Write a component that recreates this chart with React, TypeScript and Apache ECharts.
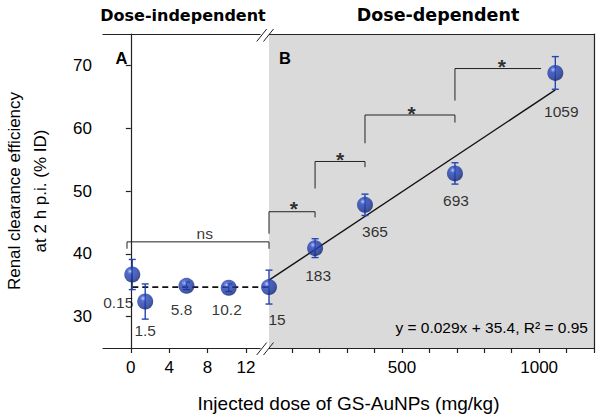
import React, { useEffect, useRef } from 'react';
import * as echarts from 'echarts';

// ---------- data ----------
const leftDoses = [0.15, 1.5, 5.8, 10.2];
const leftMeans = [36.7, 32.4, 34.9, 34.6];
const leftErrors = [2.4, 2.8, 0.6, 0.6];
const leftLabels = ['0.15', '1.5', '5.8', '10.2'];

const rightDoses = [15, 183, 365, 693, 1059];
const rightMeans = [34.7, 40.9, 47.8, 52.8, 68.8];
const rightErrors = [2.7, 1.5, 1.7, 1.7, 2.6];
const rightLabels = ['15', '183', '365', '693', '1059'];

const yTicks = [30, 40, 50, 60, 70];
const leftXTicks = [0, 4, 8, 12];
const rightXTicks = [100, 200, 300, 400, 500, 600, 700, 800, 900, 1000, 1100, 1200];
const rightXLabels = [500, 1000];

const plateauLine = [[0.15, 34.7], [14.4, 34.7]];
const fitLine = [[15, 35.8], [1059, 66.1]];
const nsBracket = [[-0.4, 40.8], [-0.4, 41.9], [14.4, 41.9], [14.4, 40.8]];
const starBrackets = [
  [[15, 43.2], [15, 46.7], [183, 46.7], [183, 45.8]],
  [[183, 50.4], [183, 54.7], [365, 54.7], [365, 53.8]],
  [[365, 57.6], [365, 62.1], [693, 62.1], [693, 60.9]],
  [[693, 64.4], [693, 69.5], [1007, 69.5]],
];
const starPositions = [[106, 47.8], [274, 55.7], [535, 63.0], [864, 70.5]];
const nsPosition = [7.7, 43.2];
const equationText = 'y = 0.029x + 35.4, R\u00B2 = 0.95';

// ---------- styling (not data) ----------
const leftLabelOffsets = [[-14, 28], [0, 29], [-5, 24], [-2, 22]];
const rightLabelOffsets = [[8, 32], [3, 27], [10, 27], [1, 27], [6, 39]];

const FONT = 'Liberation Sans';
const BOLD_TITLE = 'DejaVu Sans';
const TXT = '#000000';
const ERR_COLOR = '#2545b0';

const sphere = () =>
  new echarts.graphic.RadialGradient(0.36, 0.3, 0.72, [
    { offset: 0, color: '#f2f5ff' },
    { offset: 0.07, color: '#7d92df' },
    { offset: 0.25, color: '#2747bd' },
    { offset: 0.75, color: '#1b3596' },
    { offset: 1, color: '#0c1f6e' },
  ]);

const errRender = (params: any, api: any) => {
  const x = api.value(0);
  const lo = api.coord([x, api.value(1)]);
  const hi = api.coord([x, api.value(2)]);
  const w = 3.5;
  const style = { stroke: ERR_COLOR, lineWidth: 1.4 };
  return {
    type: 'group',
    children: [
      { type: 'line', shape: { x1: hi[0], y1: hi[1], x2: lo[0], y2: lo[1] }, style },
      { type: 'line', shape: { x1: hi[0] - w, y1: hi[1], x2: hi[0] + w, y2: hi[1] }, style },
      { type: 'line', shape: { x1: lo[0] - w, y1: lo[1], x2: lo[0] + w, y2: lo[1] }, style },
    ],
  };
};

const txt = (x: number, y: number, text: string, size: number, opts: any = {}) => ({
  type: 'text', x, y, z: 100,
  style: {
    text, fill: TXT, fontSize: size, fontFamily: opts.family || FONT, fontWeight: opts.weight || 'normal',
    textAlign: opts.align || 'center', textVerticalAlign: 'middle',
  },
});

function buildOption() {
  const gridTop = 34;
  const gridH = 314;
  const bracketStyle = { color: '#222', width: 1 };
  const series: any[] = [];

  series.push({
    type: 'line', xAxisIndex: 0, yAxisIndex: 0, data: plateauLine, symbol: 'none', clip: false,
    lineStyle: { color: '#111', width: 1.6, type: [6, 4] }, z: 2,
  });
  series.push({
    type: 'line', xAxisIndex: 1, yAxisIndex: 1, data: fitLine, symbol: 'none', clip: false,
    lineStyle: { color: '#111', width: 1.4 }, z: 2,
  });
  series.push({
    type: 'line', xAxisIndex: 0, yAxisIndex: 0, data: nsBracket, symbol: 'none', clip: false,
    lineStyle: bracketStyle, z: 2,
  });
  starBrackets.forEach((b) =>
    series.push({
      type: 'line', xAxisIndex: 1, yAxisIndex: 1, data: b, symbol: 'none', clip: false,
      lineStyle: bracketStyle, z: 2,
    })
  );
  series.push({
    type: 'custom', xAxisIndex: 0, yAxisIndex: 0, renderItem: errRender, clip: false, z: 3,
    data: leftDoses.map((d, i) => [d, leftMeans[i] - leftErrors[i], leftMeans[i] + leftErrors[i]]),
  });
  series.push({
    type: 'custom', xAxisIndex: 1, yAxisIndex: 1, renderItem: errRender, clip: false, z: 3,
    data: rightDoses.map((d, i) => [d, rightMeans[i] - rightErrors[i], rightMeans[i] + rightErrors[i]]),
  });
  const labelBase = { show: true, position: 'inside', color: TXT, fontFamily: FONT, fontSize: 15.5 };
  series.push({
    type: 'scatter', xAxisIndex: 0, yAxisIndex: 0, symbolSize: 16, clip: false, z: 4,
    itemStyle: { color: sphere() },
    data: leftDoses.map((d, i) => ({
      value: [d, leftMeans[i]],
      label: { ...labelBase, formatter: leftLabels[i], offset: leftLabelOffsets[i] },
    })),
  });
  series.push({
    type: 'scatter', xAxisIndex: 1, yAxisIndex: 1, symbolSize: 16, clip: false, z: 4,
    itemStyle: { color: sphere() },
    data: rightDoses.map((d, i) => ({
      value: [d, rightMeans[i]],
      label: { ...labelBase, formatter: rightLabels[i], offset: rightLabelOffsets[i] },
    })),
  });
  series.push({
    type: 'scatter', xAxisIndex: 1, yAxisIndex: 1, symbolSize: 0, clip: false, z: 5,
    data: starPositions,
    label: {
      show: true, position: 'inside', formatter: '*', color: TXT, fontFamily: FONT,
      fontWeight: 'bold', fontSize: 21, offset: [0, 4],
    },
  });
  series.push({
    type: 'scatter', xAxisIndex: 0, yAxisIndex: 0, symbolSize: 0, clip: false, z: 5,
    data: [nsPosition],
    label: { show: true, position: 'inside', formatter: 'ns', color: TXT, fontFamily: FONT, fontSize: 15.5 },
  });

  const tickLabel = { color: TXT, fontFamily: FONT, fontSize: 17 };
  const axisLineStyle = { color: '#222', width: 1.2 };
  const plain = (v: number) => String(v);

  return {
    animation: false,
    backgroundColor: '#ffffff',
    textStyle: { fontFamily: FONT },
    grid: [
      { left: 103, top: gridTop, width: 166, height: gridH, show: false, outerBoundsMode: 'none' },
      {
        left: 269, top: gridTop, width: 325, height: gridH, show: true,
        backgroundColor: '#dadada', borderWidth: 0, outerBoundsMode: 'none',
      },
    ],
    xAxis: [
      {
        type: 'value', gridIndex: 0, min: -2.9, max: 14.4, position: 'bottom',
        axisLine: { show: true, lineStyle: axisLineStyle },
        axisTick: { show: true, length: 5, customValues: leftXTicks, lineStyle: axisLineStyle },
        axisLabel: { ...tickLabel, customValues: leftXTicks, margin: 11, formatter: plain },
        splitLine: { show: false },
      },
      {
        type: 'value', gridIndex: 1, min: 15, max: 1200, position: 'bottom',
        axisLine: { show: true, lineStyle: axisLineStyle },
        axisTick: { show: true, length: 5, customValues: rightXTicks, lineStyle: axisLineStyle },
        axisLabel: { ...tickLabel, customValues: rightXLabels, margin: 11, formatter: plain },
        splitLine: { show: false },
      },
      {
        type: 'value', gridIndex: 0, min: -2.9, max: 14.4, position: 'top',
        axisLine: { show: true, lineStyle: axisLineStyle },
        axisTick: { show: false }, axisLabel: { show: false }, splitLine: { show: false },
      },
      {
        type: 'value', gridIndex: 1, min: 15, max: 1200, position: 'top',
        axisLine: { show: true, lineStyle: axisLineStyle },
        axisTick: { show: false }, axisLabel: { show: false }, splitLine: { show: false },
      },
    ],
    yAxis: [
      {
        type: 'value', gridIndex: 0, min: 25, max: 75, position: 'left',
        axisLine: { show: true, lineStyle: axisLineStyle },
        axisTick: { show: true, length: 5, customValues: yTicks, lineStyle: axisLineStyle },
        axisLabel: { ...tickLabel, customValues: yTicks, margin: 11, formatter: plain },
        splitLine: { show: false },
        name: 'Renal clearance efficiency\nat 2 h p.i. (% ID)',
        nameLocation: 'middle', nameGap: 50,
        nameTextStyle: { color: TXT, fontFamily: FONT, fontSize: 17, lineHeight: 26, align: 'center' },
      },
      {
        type: 'value', gridIndex: 1, min: 25, max: 75, position: 'right',
        axisLine: { show: true, lineStyle: axisLineStyle },
        axisTick: { show: false }, axisLabel: { show: false }, splitLine: { show: false },
      },
    ],
    graphic: [
      { type: 'rect', shape: { x: 260.5, y: 31.5, width: 8.5, height: 5 }, style: { fill: '#ffffff' }, z: 100 },
      { type: 'rect', shape: { x: 260.5, y: 345.5, width: 8.5, height: 5 }, style: { fill: '#ffffff' }, z: 100 },
      { type: 'line', shape: { x1: 256.7, y1: 41.5, x2: 266.7, y2: 29 }, style: { stroke: '#222', lineWidth: 1 }, z: 101 },
      { type: 'line', shape: { x1: 263.5, y1: 41.5, x2: 273.5, y2: 29 }, style: { stroke: '#222', lineWidth: 1 }, z: 101 },
      { type: 'line', shape: { x1: 256.7, y1: 355, x2: 266.7, y2: 342.5 }, style: { stroke: '#222', lineWidth: 1 }, z: 101 },
      { type: 'line', shape: { x1: 263.5, y1: 355, x2: 273.5, y2: 342.5 }, style: { stroke: '#222', lineWidth: 1 }, z: 101 },
      txt(183, 15, 'Dose-independent', 16, { family: BOLD_TITLE, weight: 'bold' }),
      txt(438, 14.5, 'Dose-dependent', 17.5, { family: BOLD_TITLE, weight: 'bold' }),
      txt(121.5, 57.5, 'A', 16.5, { weight: 'bold' }),
      txt(285, 57.5, 'B', 16.5, { weight: 'bold' }),
      txt(588, 327, equationText, 15.5, { align: 'right' }),
      txt(348.5, 403, 'Injected dose of GS-AuNPs (mg/kg)', 19),
    ],
    series,
  };
}

export default function App() {
  const ref = useRef<HTMLDivElement>(null);
  useEffect(() => {
    document.body.style.margin = '0';
    if (!ref.current) return;
    const chart = echarts.init(ref.current, undefined, { renderer: 'svg' });
    chart.setOption(buildOption() as any);
    return () => chart.dispose();
  }, []);
  return <div ref={ref} style={{ width: 600, height: 420 }} />;
}
